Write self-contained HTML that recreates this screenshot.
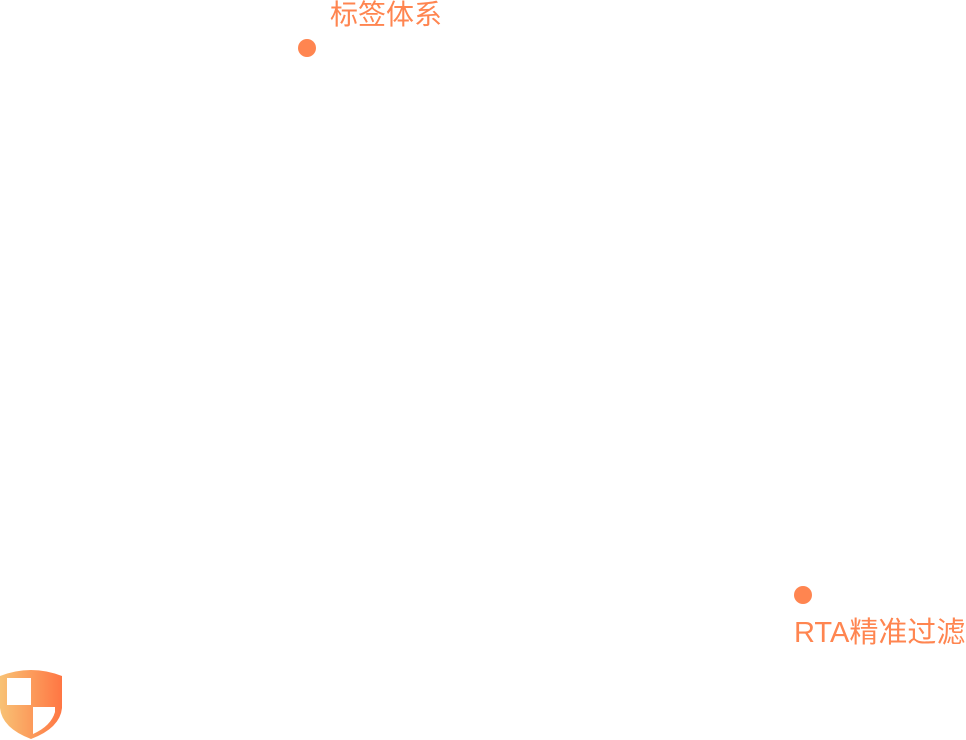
<!DOCTYPE html>
<html><head><meta charset="utf-8"><style>
html,body{margin:0;padding:0;background:#fff;width:966px;height:740px;overflow:hidden;position:relative}
.t{position:absolute;color:#ff8550;font-family:"Liberation Sans","Noto Sans CJK SC",sans-serif;line-height:30px;white-space:nowrap}
.d{position:absolute;width:18px;height:18px;border-radius:50%;background:#ff8550}
</style></head><body>
<div class="t" style="left:330px;top:0px;font-size:28px">标签体系</div>
<div class="d" style="left:298px;top:39px"></div>
<div class="d" style="left:794px;top:586px"></div>
<div class="t" style="left:794px;top:618px;font-size:29px">RTA精准过滤</div>
<svg style="position:absolute;left:0;top:666px" width="64" height="74" viewBox="0 0 64 74">
<defs><linearGradient id="g" x1="0" x2="1"><stop offset="0" stop-color="#f8c275"/><stop offset="1" stop-color="#ff7643"/></linearGradient></defs>
<path d="M0 10 Q31 -2 62 10 L62 42 Q60 62 31 73 Q2 62 0 42 Z" fill="url(#g)"/>
<rect x="7" y="12" width="24" height="27" fill="#fff"/>
<path d="M33 41 L55 41 L55 46 Q51 60 33 68 Z" fill="#fff"/>
</svg>
</body></html>
